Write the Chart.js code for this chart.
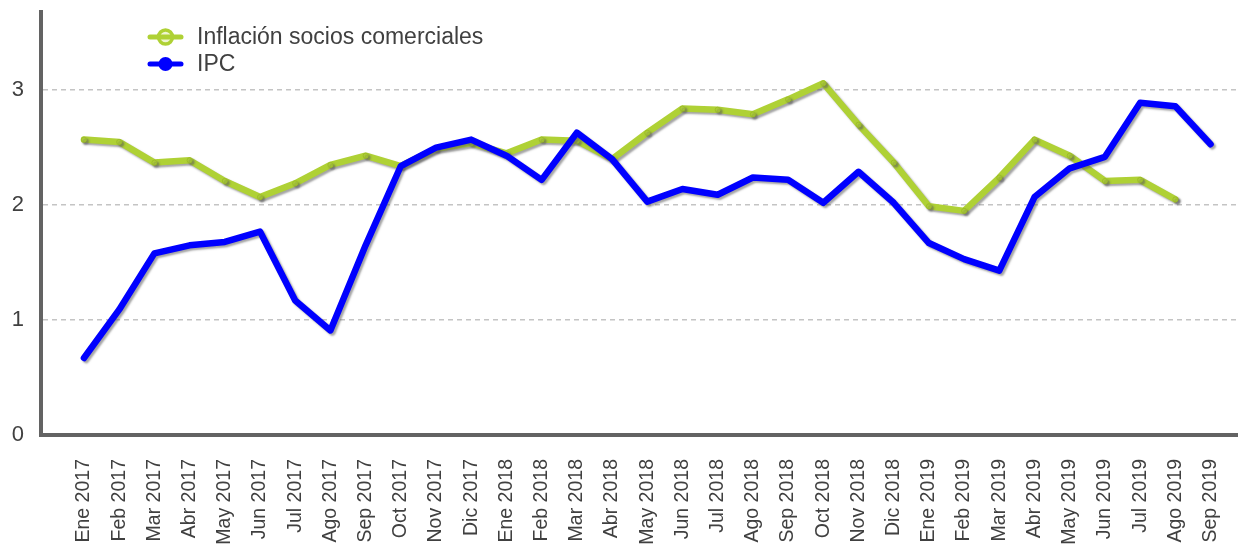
<!DOCTYPE html>
<html>
<head>
<meta charset="utf-8">
<script src="https://cdn.jsdelivr.net/npm/chart.js@4/dist/chart.umd.min.js"></script>
<style>
  html, body { margin: 0; padding: 0; background: #ffffff; }
  #wrap { width: 1238px; height: 546px; position: relative; }
</style>
</head>
<body>
<div id="wrap"><canvas id="c" width="1238" height="546"></canvas></div>
<script>
const categories = ["Ene 2017","Feb 2017","Mar 2017","Abr 2017","May 2017","Jun 2017","Jul 2017","Ago 2017","Sep 2017","Oct 2017","Nov 2017","Dic 2017",
  "Ene 2018","Feb 2018","Mar 2018","Abr 2018","May 2018","Jun 2018","Jul 2018","Ago 2018","Sep 2018","Oct 2018","Nov 2018","Dic 2018",
  "Ene 2019","Feb 2019","Mar 2019","Abr 2019","May 2019","Jun 2019","Jul 2019","Ago 2019","Sep 2019"];

const sociosLabel = "Inflación socios comerciales";
const sociosValues = [2.57,2.55,2.37,2.39,2.21,2.07,2.19,2.35,2.43,2.34,2.49,2.54,
  2.45,2.57,2.56,2.40,2.63,2.84,2.83,2.79,2.92,3.06,2.70,2.37,
  1.99,1.95,2.24,2.57,2.43,2.21,2.22,2.05,null];

const ipcLabel = "IPC";
const ipcValues = [0.67,1.09,1.58,1.65,1.68,1.77,1.17,0.91,1.65,2.34,2.50,2.57,
  2.43,2.22,2.63,2.40,2.03,2.14,2.09,2.24,2.22,2.02,2.29,2.02,
  1.67,1.53,1.43,2.07,2.32,2.42,2.89,2.86,2.53];

const yTicks = [0, 1, 2, 3];

const GREEN = '#afd135';
const BLUE = '#0000ff';
const TEXT = '#404040';
const FONT = "'Liberation Sans', Arial, sans-serif";

function toPoints(vals) {
  return vals.map((v, i) => ({ x: i, y: v }));
}

function zeroPadding(scale) {
  scale.paddingTop = 0;
  scale.paddingBottom = 0;
  scale.paddingLeft = 0;
  scale.paddingRight = 0;
}

const shadowPlugin = {
  id: 'shadow',
  beforeDatasetDraw(chart) {
    const ctx = chart.ctx;
    ctx.save();
    ctx.shadowColor = 'rgba(90,90,90,0.55)';
    ctx.shadowOffsetX = 2;
    ctx.shadowOffsetY = 2;
    ctx.shadowBlur = 2;
  },
  afterDatasetDraw(chart) {
    chart.ctx.restore();
  }
};

const legendPlugin = {
  id: 'customLegend',
  afterDraw(chart) {
    const ctx = chart.ctx;
    const items = [chart.data.datasets[1], chart.data.datasets[0]];
    const rows = [37, 64];
    ctx.save();
    items.forEach((ds, k) => {
      const y = rows[k];
      const x0 = 150, x1 = 181, cx = 165.5;
      ctx.lineCap = 'round';
      if (ds.label === sociosLabel) {
        ctx.beginPath();
        ctx.arc(cx, y, 7, 0, Math.PI * 2);
        ctx.fillStyle = '#eef5d2';
        ctx.fill();
        ctx.lineWidth = 3.5;
        ctx.strokeStyle = ds.borderColor;
        ctx.stroke();
        ctx.beginPath();
        ctx.moveTo(x0, y); ctx.lineTo(x1, y);
        ctx.lineWidth = 5;
        ctx.stroke();
      } else {
        ctx.beginPath();
        ctx.moveTo(x0, y); ctx.lineTo(x1, y);
        ctx.lineWidth = 5;
        ctx.strokeStyle = ds.borderColor;
        ctx.stroke();
        ctx.beginPath();
        ctx.arc(cx, y, 7, 0, Math.PI * 2);
        ctx.fillStyle = ds.borderColor;
        ctx.fill();
      }
      ctx.fillStyle = TEXT;
      ctx.font = '23px ' + FONT;
      ctx.textBaseline = 'middle';
      ctx.textAlign = 'left';
      ctx.fillText(ds.label, 197, y + 1);
    });
    ctx.restore();
  }
};

new Chart(document.getElementById('c'), {
  type: 'line',
  data: {
    datasets: [
      {
        label: ipcLabel,
        data: toPoints(ipcValues),
        borderColor: BLUE,
        backgroundColor: BLUE,
        borderWidth: 6.5,
        pointRadius: 0,
        tension: 0,
        borderJoinStyle: 'round',
        borderCapStyle: 'round',
        order: 1
      },
      {
        label: sociosLabel,
        data: toPoints(sociosValues),
        borderColor: GREEN,
        backgroundColor: '#c9e07a',
        borderWidth: 6.5,
        pointRadius: 2.5,
        pointBorderColor: '#9dbd2a',
        pointBorderWidth: 1,
        pointBackgroundColor: GREEN,
        tension: 0,
        spanGaps: false,
        borderJoinStyle: 'round',
        borderCapStyle: 'round',
        order: 2
      }
    ]
  },
  options: {
    responsive: false,
    animation: false,
    events: [],
    layout: { autoPadding: false, padding: { top: 12, right: 0, left: 0, bottom: 0 } },
    plugins: {
      legend: { display: false },
      tooltip: { enabled: false }
    },
    scales: {
      x: {
        type: 'linear',
        min: -1.22,
        max: 32.78,
        afterBuildTicks(scale) {
          scale.ticks = categories.map((c, i) => ({ value: i }));
        },
        afterFit(scale) { scale.height = 111; zeroPadding(scale); },
        ticks: {
          autoSkip: false,
          minRotation: 90,
          maxRotation: 90,
          padding: 24,
          color: TEXT,
          font: { family: FONT, size: 19.5 },
          callback: (v) => categories[v] !== undefined ? categories[v] : ''
        },
        grid: { display: false, drawTicks: false },
        border: { display: true, color: '#636363', width: 4 }
      },
      y: {
        type: 'linear',
        min: 0,
        max: 3.68,
        afterBuildTicks(scale) {
          scale.ticks = yTicks.map(v => ({ value: v }));
        },
        afterFit(scale) { scale.width = 41; zeroPadding(scale); },
        ticks: {
          padding: 17,
          color: TEXT,
          font: { family: FONT, size: 22 },
          callback: (v) => String(v)
        },
        grid: {
          display: true,
          drawTicks: false,
          color: '#c4c4c4',
          lineWidth: 1.5
        },
        border: { display: true, color: '#636363', width: 4, dash: [5, 4] }
      }
    }
  },
  plugins: [shadowPlugin, legendPlugin]
});
</script>
</body>
</html>
